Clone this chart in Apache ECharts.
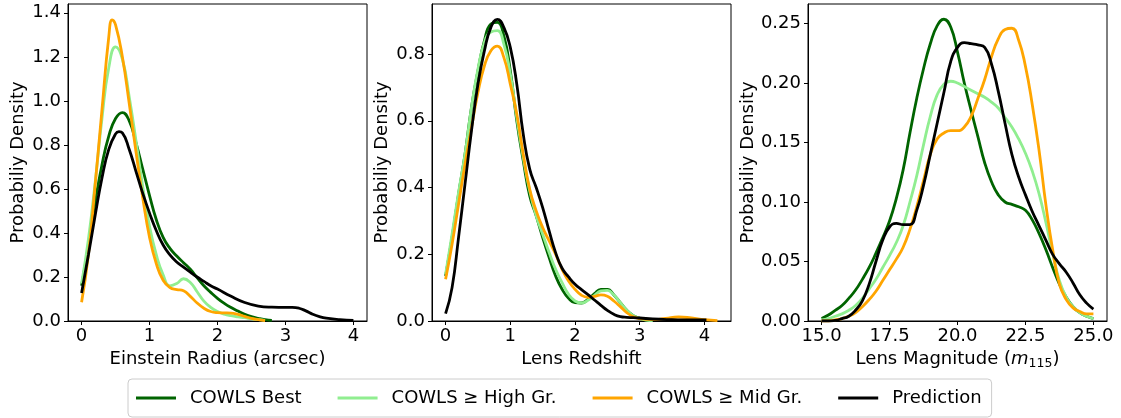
<!DOCTYPE html>
<html>
<head>
<meta charset="utf-8">
<script src="https://cdn.jsdelivr.net/npm/echarts@6/dist/echarts.min.js"></script>
<style>
  html, body { margin: 0; padding: 0; background: #fff; }
  #figure0 { width: 1121px; height: 418px; }
</style>
</head>
<body>
<div id="figure0"></div>
<script>
// series names (legend order)
var seriesNames = ['COWLS Best', 'COWLS \u2265 High Gr.', 'COWLS \u2265 Mid Gr.', 'Prediction'];
var seriesColors = ['#006400', '#90ee90', '#ffa500', '#000000'];

// panel 1 : Einstein radius (arcsec), [x, density]
var radiusBest = [[0,0.16],[0.1,0.34],[0.2,0.54],[0.3,0.71],[0.4,0.84],[0.5,0.92],[0.6,0.947],[0.7,0.91],[0.8,0.81],[0.9,0.69],[1.0,0.57],[1.1,0.46],[1.2,0.38],[1.3,0.33],[1.4,0.295],[1.5,0.265],[1.6,0.235],[1.7,0.197],[1.8,0.16],[1.9,0.13],[2.0,0.103],[2.1,0.08],[2.2,0.061],[2.3,0.045],[2.4,0.031],[2.5,0.02],[2.6,0.012],[2.7,0.006],[2.8,0.003]];
var radiusHigh = [[0,0.17],[0.1,0.37],[0.2,0.63],[0.3,0.92],[0.4,1.15],[0.5,1.245],[0.6,1.19],[0.7,1.02],[0.8,0.82],[0.9,0.61],[1.0,0.43],[1.1,0.3],[1.2,0.21],[1.3,0.16],[1.4,0.17],[1.5,0.192],[1.6,0.175],[1.7,0.133],[1.8,0.09],[1.9,0.062],[2.0,0.043],[2.1,0.031],[2.2,0.024],[2.3,0.019],[2.4,0.015],[2.5,0.01],[2.6,0.006],[2.7,0.003]];
var radiusMid = [[0,0.085],[0.1,0.3],[0.2,0.62],[0.3,0.96],[0.4,1.29],[0.45,1.368],[0.5,1.345],[0.6,1.2],[0.7,0.99],[0.8,0.77],[0.9,0.56],[1.0,0.38],[1.1,0.26],[1.2,0.185],[1.3,0.152],[1.4,0.143],[1.5,0.137],[1.6,0.112],[1.7,0.082],[1.8,0.058],[1.9,0.043],[2.0,0.038],[2.1,0.037],[2.2,0.036],[2.3,0.03],[2.4,0.021],[2.5,0.012],[2.6,0.006],[2.7,0.002]];
var radiusPred = [[0,0.127],[0.1,0.3],[0.2,0.48],[0.3,0.65],[0.4,0.78],[0.5,0.85],[0.55,0.86],[0.6,0.855],[0.7,0.78],[0.8,0.68],[0.9,0.58],[1.0,0.49],[1.1,0.41],[1.2,0.345],[1.3,0.3],[1.4,0.268],[1.5,0.245],[1.6,0.222],[1.7,0.2],[1.8,0.18],[1.9,0.16],[2.0,0.145],[2.2,0.112],[2.4,0.084],[2.6,0.068],[2.8,0.063],[3.0,0.062],[3.1,0.062],[3.2,0.058],[3.3,0.046],[3.4,0.031],[3.5,0.02],[3.6,0.013],[3.8,0.006],[4.0,0.003]];

// panel 2 : lens redshift
var redshiftBest = [[0,0.135],[0.1,0.25],[0.2,0.38],[0.3,0.5],[0.4,0.64],[0.5,0.75],[0.6,0.84],[0.7,0.89],[0.8,0.895],[0.9,0.855],[1.0,0.75],[1.1,0.6],[1.2,0.48],[1.3,0.375],[1.4,0.315],[1.5,0.25],[1.6,0.19],[1.7,0.135],[1.8,0.095],[1.9,0.068],[2.0,0.055],[2.1,0.054],[2.2,0.065],[2.3,0.082],[2.4,0.095],[2.5,0.095],[2.6,0.078],[2.7,0.055],[2.8,0.032],[2.9,0.016],[3.0,0.008],[3.1,0.003],[3.2,0.001]];
var redshiftHigh = [[0,0.14],[0.1,0.26],[0.2,0.385],[0.3,0.5],[0.4,0.64],[0.5,0.755],[0.6,0.835],[0.7,0.866],[0.8,0.87],[0.9,0.83],[1.0,0.74],[1.1,0.61],[1.2,0.49],[1.3,0.39],[1.4,0.315],[1.5,0.26],[1.6,0.205],[1.7,0.155],[1.8,0.115],[1.9,0.08],[2.0,0.06],[2.1,0.054],[2.2,0.062],[2.3,0.077],[2.4,0.09],[2.5,0.092],[2.6,0.078],[2.7,0.055],[2.8,0.032],[2.9,0.016],[3.0,0.008],[3.1,0.003],[3.2,0.001]];
var redshiftMid = [[0,0.125],[0.1,0.23],[0.2,0.35],[0.3,0.47],[0.4,0.58],[0.5,0.685],[0.6,0.765],[0.7,0.81],[0.8,0.824],[0.9,0.79],[1.0,0.71],[1.1,0.62],[1.2,0.5],[1.3,0.395],[1.4,0.33],[1.5,0.28],[1.6,0.24],[1.7,0.2],[1.8,0.155],[1.9,0.12],[2.0,0.095],[2.1,0.077],[2.2,0.071],[2.3,0.074],[2.4,0.078],[2.5,0.074],[2.6,0.06],[2.7,0.043],[2.8,0.025],[2.9,0.013],[3.0,0.007],[3.2,0.004],[3.4,0.008],[3.6,0.012],[3.8,0.009],[4.0,0.004],[4.2,0.001]];
var redshiftPred = [[0,0.022],[0.1,0.1],[0.2,0.25],[0.3,0.41],[0.4,0.57],[0.5,0.71],[0.6,0.81],[0.7,0.88],[0.8,0.904],[0.9,0.88],[1.0,0.82],[1.1,0.71],[1.2,0.56],[1.3,0.455],[1.4,0.4],[1.5,0.34],[1.6,0.27],[1.7,0.205],[1.8,0.158],[1.9,0.132],[2.0,0.11],[2.1,0.094],[2.2,0.079],[2.3,0.063],[2.4,0.047],[2.5,0.032],[2.6,0.02],[2.7,0.013],[2.8,0.011],[3.0,0.009],[3.2,0.006],[3.5,0.004],[3.8,0.003],[4.03,0.003]];

// panel 3 : lens magnitude (m115)
var magBest = [[15,0.002],[15.25,0.005],[15.5,0.009],[15.75,0.013],[16,0.019],[16.25,0.026],[16.5,0.035],[16.75,0.045],[17,0.057],[17.25,0.07],[17.5,0.084],[17.75,0.103],[18,0.127],[18.25,0.158],[18.5,0.187],[18.75,0.212],[19,0.233],[19.25,0.248],[19.5,0.2536],[19.75,0.247],[20,0.226],[20.25,0.2],[20.5,0.177],[20.75,0.155],[21,0.133],[21.25,0.117],[21.5,0.106],[21.75,0.1],[22,0.098],[22.25,0.096],[22.5,0.093],[22.75,0.085],[23,0.0735],[23.25,0.06],[23.5,0.045],[23.75,0.031],[24,0.02],[24.25,0.012],[24.5,0.007],[24.75,0.004],[25,0.002]];
var magHigh = [[15,0.001],[15.25,0.002],[15.5,0.004],[15.75,0.006],[16,0.009],[16.25,0.013],[16.5,0.019],[16.75,0.027],[17,0.035],[17.25,0.045],[17.5,0.055],[17.75,0.066],[18,0.08],[18.25,0.1],[18.5,0.122],[18.75,0.148],[19,0.172],[19.25,0.19],[19.5,0.199],[19.75,0.2015],[20,0.2],[20.25,0.197],[20.5,0.194],[20.75,0.191],[21,0.188],[21.25,0.184],[21.5,0.179],[21.75,0.171],[22,0.163],[22.25,0.153],[22.5,0.141],[22.75,0.126],[23,0.107],[23.25,0.083],[23.5,0.057],[23.75,0.034],[24,0.02],[24.25,0.012],[24.5,0.007],[24.75,0.004],[25,0.002]];
var magMid = [[15,0],[15.25,0],[15.5,0.001],[15.75,0.002],[16,0.004],[16.25,0.007],[16.5,0.012],[16.75,0.018],[17,0.025],[17.25,0.034],[17.5,0.043],[17.75,0.052],[18,0.062],[18.25,0.077],[18.5,0.096],[18.75,0.118],[19,0.14],[19.25,0.153],[19.5,0.158],[19.75,0.16],[20,0.16],[20.25,0.163],[20.5,0.172],[20.75,0.187],[21,0.203],[21.25,0.222],[21.5,0.237],[21.75,0.245],[22,0.246],[22.25,0.236],[22.5,0.214],[22.75,0.182],[23,0.1435],[23.25,0.098],[23.5,0.06],[23.75,0.031],[24,0.018],[24.25,0.011],[24.5,0.008],[24.75,0.006],[25,0.006]];
var magPred = [[15,0],[15.25,0],[15.5,0.0005],[15.75,0.002],[16,0.004],[16.25,0.009],[16.5,0.017],[16.75,0.031],[17,0.05],[17.25,0.068],[17.5,0.079],[17.75,0.082],[18,0.081],[18.25,0.081],[18.5,0.093],[18.75,0.114],[19,0.14],[19.25,0.166],[19.5,0.192],[19.75,0.218],[20,0.23],[20.25,0.234],[20.5,0.233],[20.75,0.232],[21,0.23],[21.25,0.216],[21.5,0.193],[21.75,0.166],[22,0.14],[22.25,0.121],[22.5,0.106],[22.75,0.092],[23,0.08],[23.25,0.068],[23.5,0.056],[23.75,0.048],[24,0.041],[24.25,0.032],[24.5,0.022],[24.75,0.015],[25,0.01]];

// tick values
var radiusTicks = [0, 1, 2, 3, 4];
var redshiftTicks = [0, 1, 2, 3, 4];
var magTicks = [15, 17.5, 20, 22.5, 25];
var radiusDensityTicks = [0, 0.2, 0.4, 0.6, 0.8, 1.0, 1.2, 1.4];
var redshiftDensityTicks = [0, 0.2, 0.4, 0.6, 0.8];
var magDensityTicks = [0, 0.05, 0.10, 0.15, 0.20, 0.25];

var panels = [
    {data: [radiusBest, radiusHigh, radiusMid, radiusPred], xName: 'Einstein Radius (arcsec)',
     xMin: -0.2, xMax: 4.2, yMax: 1.44, xTicks: radiusTicks, yTicks: radiusDensityTicks, xDec: 0, yDec: 1, left: 68},
    {data: [redshiftBest, redshiftHigh, redshiftMid, redshiftPred], xName: 'Lens Redshift',
     xMin: -0.21, xMax: 4.41, yMax: 0.95, xTicks: redshiftTicks, yTicks: redshiftDensityTicks, xDec: 0, yDec: 1, left: 432},
    {data: [magBest, magHigh, magMid, magPred], xName: 'Lens Magnitude ({m|m}{sub|115})',
     xMin: 14.5, xMax: 25.5, yMax: 0.2664, xTicks: magTicks, yTicks: magDensityTicks, xDec: 1, yDec: 2, left: 808}
];

var font = 'DejaVu Sans';
var grids = [], xAxes = [], yAxes = [], series = [];
panels.forEach(function (p, i) {
    grids.push({left: p.left, top: 4, width: 299, height: 317, show: true,
                borderColor: '#000', borderWidth: 1, backgroundColor: 'transparent'});
    xAxes.push({
        type: 'value', gridIndex: i, min: p.xMin, max: p.xMax,
        name: p.xName, nameLocation: 'middle', nameGap: 27,
        nameTextStyle: {fontSize: 18, color: '#000', fontFamily: font,
            rich: {m: {fontSize: 18, fontStyle: 'italic', fontFamily: font, color: '#000'},
                   sub: {fontSize: 12.5, fontFamily: font, color: '#000', padding: [9, 0, 0, 0]}}},
        axisLine: {show: true, onZero: false, lineStyle: {color: '#000', width: 1}},
        axisTick: {show: true, length: 4, customValues: p.xTicks, lineStyle: {color: '#000'}},
        axisLabel: {customValues: p.xTicks, margin: 6, fontSize: 18, color: '#000', fontFamily: font,
            formatter: (function (d) { return function (v) { return Number(v).toFixed(d); }; })(p.xDec)},
        splitLine: {show: false}
    });
    yAxes.push({
        type: 'value', gridIndex: i, min: 0, max: p.yMax,
        name: 'Probabiliy Density', nameLocation: 'middle', nameGap: 41,
        nameTextStyle: {fontSize: 18, color: '#000', fontFamily: font},
        axisLine: {show: true, onZero: false, lineStyle: {color: '#000', width: 1}},
        axisTick: {show: true, length: 4, customValues: p.yTicks, lineStyle: {color: '#000'}},
        axisLabel: {customValues: p.yTicks, margin: 7, fontSize: 18, color: '#000', fontFamily: font,
            formatter: (function (d) { return function (v) { return Number(v).toFixed(d); }; })(p.yDec)},
        splitLine: {show: false}
    });
    p.data.forEach(function (d, k) {
        series.push({
            name: seriesNames[k], type: 'line', xAxisIndex: i, yAxisIndex: i,
            data: d, smooth: true, symbol: 'none', showSymbol: false,
            color: seriesColors[k],
            lineStyle: {color: seriesColors[k], width: 2.8},
            z: 2 + k
        });
    });
});

var figure0 = echarts.init(document.getElementById('figure0'));
var option = {
    animation: false,
    backgroundColor: '#fff',
    textStyle: {fontFamily: font},
    legend: {
        data: seriesNames.map(function (n) { return {name: n, icon: 'rect'}; }),
        left: 128, top: 379,
        padding: [10, 10, 10, 8],
        itemWidth: 40, itemHeight: 3, itemGap: 36,
        borderColor: '#cccccc', borderWidth: 1, borderRadius: 4,
        textStyle: {fontSize: 18, color: '#000', fontFamily: font, padding: [0, 0, 0, 9]}
    },
    grid: grids,
    xAxis: xAxes,
    yAxis: yAxes,
    series: series
};
figure0.setOption(option);
</script>
</body>
</html>
